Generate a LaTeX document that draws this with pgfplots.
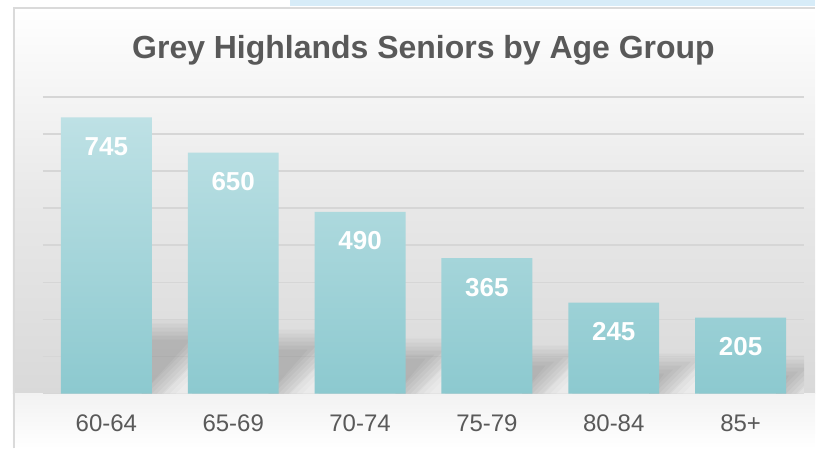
\documentclass[border=0pt]{standalone}
\usepackage{fontspec}
\setmainfont{Liberation Sans}
\usepackage{pgfplots}
\pgfplotsset{compat=1.18}
\definecolor{titlegray}{HTML}{595959}
\definecolor{gridgray}{HTML}{D6D6D6}
\definecolor{bartop}{HTML}{BEE1E5}
\definecolor{barbot}{HTML}{8CC9CF}
\definecolor{stripblue}{HTML}{D7ECF8}
\definecolor{framegray}{HTML}{DADADA}
\definecolor{wallgray}{HTML}{D9D9D9}
\definecolor{floorgray}{HTML}{F2F2F2}
% soft shadow layer: #1 bar right edge (data x), #2 top (px), #3 diagonal offset (px), #4 opacity
\newcommand{\shlayer}[4]{%
  \pgfmathsetmacro\shxa{(#1)-10*0.007874}%
  \pgfmathsetmacro\shyT{(#2)*2.6936}%
  \pgfmathsetmacro\shxB{(#1)+min(40,(#2)+(#3))*0.007874}%
  \pgfmathsetmacro\shyC{max(0,min((#2),40-(#3)))*2.6936}%
  \pgfmathsetmacro\shxD{(#1)+max(-10,(#3))*0.007874}%
  \addplot[fill=black, fill opacity=#4, draw=none, forget plot]
    coordinates {(\shxa,0) (\shxa,\shyT) (\shxB,\shyT) (\shxB,\shyC) (\shxD,0)} -- cycle;
}
% light floor below the diagonal: #1 bar right edge, #2 offset (px), #3 opacity
\newcommand{\hllayer}[3]{%
  \pgfmathsetmacro\hlxa{(#1)+(#2)*0.007874}%
  \pgfmathsetmacro\hlxb{(#1)+40*0.007874}%
  \pgfmathsetmacro\hlyb{(40-(#2))*2.6936}%
  \addplot[fill=white, fill opacity=#3, draw=none, forget plot]
    coordinates {(\hlxa,0) (\hlxb,\hlyb) (\hlxb,0)} -- cycle;
}
\newcommand{\shadowbar}[2]{%
  \shlayer{#1}{#2+8}{10}{0.03}%
  \shlayer{#1}{#2+4}{5}{0.03}%
  \shlayer{#1}{#2}{0}{0.03}%
  \shlayer{#1}{#2-4}{-5}{0.03}%
  \shlayer{#1}{#2-8}{-10}{0.03}%
  \shlayer{#1}{#2-12}{-15}{0.03}%
  \hllayer{#1}{12}{0.2}%
  \hllayer{#1}{18}{0.2}%
  \hllayer{#1}{24}{0.2}%
}
\begin{document}
\begin{tikzpicture}
% canvas 816x449 px, 1px = 0.75pt
\fill[white] (0pt,0pt) rectangle (612pt,-336.75pt);
\fill[stripblue] (217.5pt,0pt) rectangle (612pt,-4.5pt);
% wall
\shade[top color=white, bottom color=wallgray, middle color=gray!18] (9.75pt,-5.25pt) rectangle (612pt,-295.5pt);
% floor
\shade[top color=floorgray, bottom color=white] (9.75pt,-295.5pt) rectangle (612pt,-336.75pt);
\draw[framegray, line width=1.5pt] (10.5pt,-336.75pt) -- (10.5pt,-6pt) -- (612pt,-6pt);
\node[font=\bfseries\fontsize{24}{28}\selectfont, text=titlegray, anchor=center] at (318pt,-37.5pt) {Grey Highlands Seniors by Age Group};
\begin{axis}[
  at={(32.25pt,-295.5pt)}, anchor=south west,
  scale only axis, width=571.5pt, height=222.75pt,
  xmin=-0.5, xmax=5.5, ymin=0, ymax=800,
  axis line style={draw=none},
  tick style={draw=none},
  ytick={0,100,...,800}, yticklabels={},
  ymajorgrids, major grid style={draw=gridgray, line width=1.1pt},
  xtick={0,1,2,3,4,5},
  xticklabels={60-64,65-69,70-74,75-79,80-84,85+},
  xticklabel style={font=\fontsize{18}{21}\selectfont, text=titlegray, yshift=-12.5pt},
  bar width=68.25pt,
  /pgf/number format/assume math mode=true,
]
\shadowbar{0.3583}{66}
\shadowbar{1.3583}{56}
\shadowbar{2.3583}{47}
\shadowbar{3.3583}{40}
\shadowbar{4.3583}{32}
\shadowbar{5.3583}{30}
\addplot[ybar, draw=none, top color=bartop, bottom color=barbot,
  nodes near coords,
  every node near coord/.append style={font=\bfseries\fontsize{19.5}{22}\selectfont, text=white, anchor=center, yshift=-21.75pt}]
  coordinates {
(0,745) (1,650) (2,490) (3,365) (4,245) (5,205)
};
\end{axis}
\end{tikzpicture}
\end{document}
